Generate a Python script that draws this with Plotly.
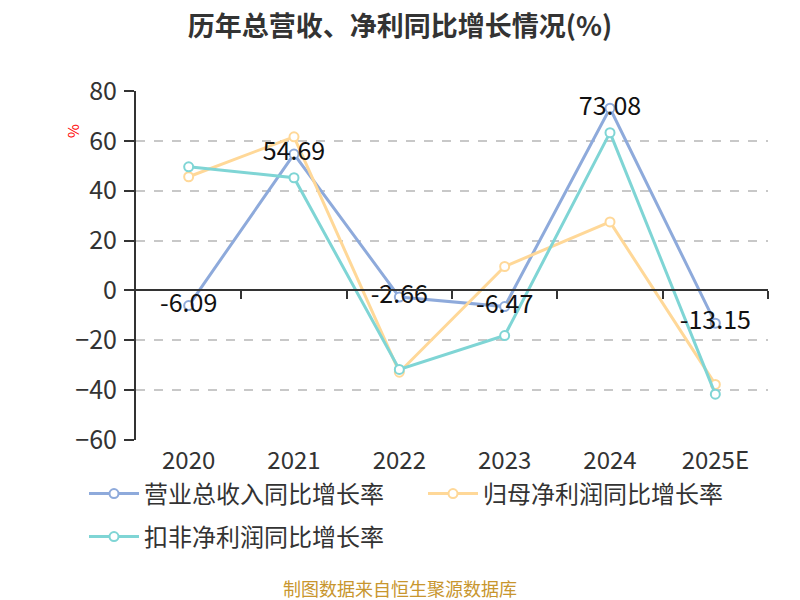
import plotly.graph_objects as go

categories = ["2020", "2021", "2022", "2023", "2024", "2025E"]
revenue_growth = [-6.09, 54.69, -2.66, -6.47, 73.08, -13.15]
parent_profit_growth = [45.6, 61.6, -32.8, 9.6, 27.5, -37.7]
deducted_profit_growth = [49.6, 45.2, -31.7, -18.1, 63.3, -41.6]
series_names = ["营业总收入同比增长率", "归母净利润同比增长率", "扣非净利润同比增长率"]
y_ticks = [-60, -40, -20, 0, 20, 40, 60, 80]

colors = ["#8EAADB", "#FFD898", "#7FD5D5"]
FONT = "Noto Sans CJK SC"
xs = list(range(len(categories)))

# page body has an 8px margin; figure coords = screen coords - 8
W, H = 792, 592
L, T, R, B = 128, 83, 32, 160
PW, PH = W - L - R, H - T - B


def px(xs_):
    return (xs_ - 8 - L) / PW


def py(ys_):
    return (H - B - (ys_ - 8)) / PH


fig = go.Figure()
for i, (name, vals, col) in enumerate([
    (series_names[0], revenue_growth, colors[0]),
    (series_names[1], parent_profit_growth, colors[1]),
    (series_names[2], deducted_profit_growth, colors[2]),
]):
    fig.add_trace(go.Scatter(
        x=xs, y=vals, name=name, mode="lines+markers",
        line=dict(color=col, width=3),
        marker=dict(symbol="circle", size=9, color="white",
                    line=dict(color=col, width=2)),
        cliponaxis=False,
        legend="legend2" if i == 2 else "legend",
    ))

# data labels for revenue series, drawn on top
fig.add_trace(go.Scatter(
    x=xs, y=revenue_growth, mode="text", showlegend=False, hoverinfo="skip",
    text=[f"{v:.2f}" for v in revenue_growth], textposition="middle center",
    textfont=dict(size=25, color="#111", family=FONT), cliponaxis=False,
))
# invisible trace so that the zero-line x axis is drawn
fig.add_trace(go.Scatter(x=[0], y=[None], xaxis="x2", showlegend=False, hoverinfo="skip"))

legend_common = dict(orientation="h", xanchor="left", yanchor="middle",
                     font=dict(size=24, color="#333"), entrywidth=274, itemwidth=50,
                     bgcolor="rgba(0,0,0,0)")

fig.update_layout(
    width=W, height=H,
    margin=dict(l=L, r=R, t=T, b=B, autoexpand=False),
    paper_bgcolor="white", plot_bgcolor="white",
    font=dict(family=FONT, color="#333"),
    title=dict(text="<b>历年总营收、净利同比增长情况(%)</b>", xref="container",
               x=(400 - 8) / W, xanchor="center",
               yref="container", y=(H - 19) / H, yanchor="middle",
               font=dict(size=27, color="#333", family=FONT)),
    xaxis=dict(range=[-0.5, 5.5], tickmode="array", tickvals=xs, ticktext=categories,
               showgrid=False, zeroline=False, showline=False, ticks="",
               tickfont=dict(size=24, color="#333"), ticklabelstandoff=4),
    xaxis2=dict(range=[-0.5, 5.5], overlaying="x", anchor="free",
                position=60 / 140, showline=True, linecolor="#333", linewidth=2,
                ticks="outside", ticklen=8, tickwidth=2, tickcolor="#333",
                tickmode="array", tickvals=[i + 0.5 for i in xs], showticklabels=False,
                showgrid=False, zeroline=False),
    yaxis=dict(range=[-60, 80], tickmode="array", tickvals=y_ticks,
               showgrid=True, gridcolor="#C8C8C8", griddash="dash", gridwidth=1.5,
               zeroline=False, showline=True, linecolor="#333", linewidth=2,
               ticks="outside", ticklen=10, tickwidth=2, tickcolor="#333",
               tickfont=dict(size=25, color="#333"), ticklabelstandoff=2),
    legend=dict(x=px(84), y=py(494), **legend_common),
    legend2=dict(x=px(84), y=py(537), **legend_common),
    showlegend=True,
)

fig.add_annotation(text="%", xref="paper", yref="paper", x=px(72), y=py(131),
                   textangle=-90, showarrow=False, xanchor="center", yanchor="middle",
                   font=dict(size=15, color="red"))
fig.add_annotation(text="制图数据来自恒生聚源数据库", xref="paper", yref="paper",
                   x=px(400), y=py(588), showarrow=False,
                   xanchor="center", yanchor="middle",
                   font=dict(size=18, color="#C8962E", family=FONT))

fig.write_html("out.html")
